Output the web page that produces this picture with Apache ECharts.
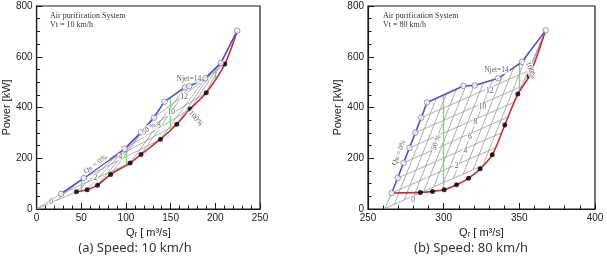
<!DOCTYPE html>
<html>
<head>
<meta charset="utf-8">
<script src="https://cdn.jsdelivr.net/npm/echarts@6/dist/echarts.min.js"></script>
<style>
  html, body { margin: 0; padding: 0; background: #fff; }
  #chart { width: 607px; height: 257px; }
</style>
</head>
<body>
<div id="chart"></div>
<script>
// ---- axes ----
const xRangeA = [0, 250, 50];
const xRangeB = [250, 400, 50];
const yRange = [0, 800, 200];

// ---- (a) Vt = 10 km/h ----
// upper envelope, white circles
const upperA = [[27.4, 60], [52.9, 122], [98.5, 237], [116.8, 302], [131.4, 360], [143.1, 423],
  [166, 479], [170.8, 484], [188.7, 515], [206.2, 576], [224.5, 702]];
// optimum line, black dots
const dotsA = [[44.5, 68], [56.6, 76], [68.2, 94], [82.8, 136], [104.7, 181], [116.8, 215],
  [138.7, 275], [156.9, 334], [171.9, 394], [189.8, 458], [210.6, 571]];
// Njet lines of the carpet
const njetA = [
  [[0, 0], [44.5, 68]],
  [[27.4, 60], [104.7, 181]],
  [[52.9, 122], [138.7, 275]],
  [[75.7, 179], [156.9, 334]],
  [[98.5, 237], [171.9, 394]],
  [[116.8, 302], [189.8, 458]],
  [[131.4, 360], [210.6, 571]]
];
// Q_B lines of the carpet
const qbA = [
  [[0, 0], [27.4, 60]],
  [[22, 34], [52.9, 122]],
  [[44.5, 68], [98.5, 237]],
  [[56.6, 76], [116.8, 302]],
  [[68.2, 94], [131.4, 360]],
  [[82.8, 136], [143.1, 423]],
  [[104.7, 181], [166, 479]],
  [[116.8, 215], [170.8, 484]],
  [[138.7, 275], [188.7, 515]],
  [[156.9, 334], [197, 545]],
  [[171.9, 394], [206.2, 576]],
  [[189.8, 458], [215, 635]]
];
// constant Qr lines: [Qr, low, high]
const greenA = [[50, 72, 115], [100, 172, 242], [150, 312, 438], [200, 513, 554]];
const labelsA = [
  ['0', 16.4, 26, 0],
  ['2', 65.7, 122, 0],
  ['4', 93.8, 204, 0],
  ['8', 136.9, 327, 0],
  ['10', 150.7, 381, 0],
  ['12', 165.3, 443, 0],
  ['Njet=14', 170.4, 513, 0],
  ['{t|Q}{s|B}{t| = 0%}', 66, 176, 35],
  ['50 %', 125.9, 316, 35],
  ['100%', 178, 357, -50]
];

// ---- (b) Vt = 80 km/h ----
const upperB = [[265.7, 63], [269.6, 122], [273.5, 182], [277.4, 241], [281.3, 301], [285.2, 360],
  [289, 420], [313, 485], [320.5, 487], [336, 515], [351.8, 580], [367.4, 704]];
const dotsB = [[284.6, 65.5], [292.6, 69.4], [300.3, 76], [308.5, 95.6], [316.4, 121],
  [324.1, 158.4], [332.1, 213.4], [340.4, 331], [349, 453], [356.6, 524]];
const njetB = [
  [[261, 2], [326, 172]],
  [[265.7, 63], [334, 241]],
  [[269.6, 122], [338.2, 300]],
  [[273.5, 182], [342.5, 362]],
  [[277.4, 241], [346.8, 421]],
  [[281.3, 301], [352.6, 486]],
  [[285.2, 360], [358.2, 550]]
];
const qbB = [
  [[261, 2], [265.7, 63]],
  [[267.5, 20], [295.3, 437]],
  [[274, 37], [301.9, 455]],
  [[280.5, 54], [308.4, 473]],
  [[287, 71], [314.7, 486]],
  [[293.5, 88], [320.1, 487]],
  [[300, 104], [326.2, 497]],
  [[306.5, 121], [332.3, 508]],
  [[313, 138], [338.9, 527]],
  [[319.5, 155], [346.3, 557]],
  [[326, 172], [354.8, 604]],
  [[346.8, 421], [367.4, 704]],
  [[352.6, 486], [367.4, 704]]
];
const greenB = [[300, 76, 449], [350, 462, 573]];
const labelsB = [
  ['0', 279.8, 36.7, 0],
  ['2', 308.5, 167.6, 0],
  ['4', 314.4, 226.5, 0],
  ['6', 317.3, 282.8, 0],
  ['8', 321, 341.7, 0],
  ['10', 325.7, 400.7, 0],
  ['12', 330.5, 466, 0],
  ['Njet=14', 334.9, 547, 0],
  ['{t|Q}{s|B}{t| = 0%}', 270.5, 222, 68],
  ['50 %', 295.2, 262, 70],
  ['100%', 357.5, 547, -70]
];

const captions = ['(a) Speed: 10 km/h', '(b) Speed: 80 km/h'];
const notes = ['Air purification System\nVt = 10 km/h', 'Air purification System\nVt = 80 km/h'];

const ink = '#1a1a1a';
const serif = '"Liberation Serif", "Times New Roman", serif';
const sans = 'Arial, "Liberation Sans", "DejaVu Sans", sans-serif';

function xAxis(idx, r) {
  return {
    gridIndex: idx, type: 'value', min: r[0], max: r[1], interval: r[2],
    axisLine: { show: true, onZero: false, lineStyle: { color: ink, width: 1.2 } },
    axisTick: { show: true, inside: true, length: 6, lineStyle: { color: ink, width: 1 } },
    minorTick: { show: true, splitNumber: 5, length: 3.5, lineStyle: { color: ink, width: 1 } },
    splitLine: { show: false },
    name: 'Q\u1d63 [ m\u00b3/s]',
    nameLocation: 'middle', nameGap: 16,
    nameTextStyle: { color: ink, fontFamily: sans, fontSize: 11 },
    axisLabel: { color: '#222', fontFamily: sans, fontSize: 10, margin: 4 }
  };
}

function yAxis(idx) {
  return {
    gridIndex: idx, type: 'value', min: yRange[0], max: yRange[1], interval: yRange[2],
    axisLine: { show: true, onZero: false, lineStyle: { color: ink, width: 1.2 } },
    axisTick: { show: true, inside: true, length: 6, lineStyle: { color: ink, width: 1 } },
    minorTick: { show: true, splitNumber: 4, length: 3.5, lineStyle: { color: ink, width: 1 } },
    splitLine: { show: false },
    name: 'Power [kW]', nameLocation: 'middle', nameGap: 20,
    nameTextStyle: { color: ink, fontFamily: sans, fontSize: 11 },
    axisLabel: { color: '#222', fontFamily: sans, fontSize: 10, margin: 4 }
  };
}

function panelSeries(axis, upper, dots, njet, qb, green, labels, redStartsAtUpper) {
  const end = upper[upper.length - 1];
  const red = (redStartsAtUpper ? [upper[0]] : []).concat(dots, [end]);
  const ax = { xAxisIndex: axis, yAxisIndex: axis };
  const mesh = njet.concat(qb).map(seg => ({ coords: seg }));
  return [
    Object.assign({
      type: 'lines', coordinateSystem: 'cartesian2d', polyline: true, silent: true, z: 1,
      lineStyle: { color: '#9a9a9a', width: 0.8, opacity: 1 },
      data: mesh
    }, ax),
    Object.assign({
      type: 'lines', coordinateSystem: 'cartesian2d', silent: true, z: 2,
      lineStyle: { color: '#86cf7e', width: 1.4, opacity: 1 },
      data: green.map(g => ({ coords: [[g[0], g[1]], [g[0], g[2]]] }))
    }, ax),
    Object.assign({
      type: 'line', z: 3, symbol: 'none', smooth: 0.3,
      lineStyle: { color: '#c4303a', width: 1.6 },
      data: red
    }, ax),
    Object.assign({
      type: 'line', z: 4, symbol: 'none',
      lineStyle: { color: '#5050cc', width: 1.6 },
      data: upper
    }, ax),
    Object.assign({
      type: 'scatter', z: 5, symbol: 'circle', symbolSize: 5,
      itemStyle: { color: '#000' },
      data: dots
    }, ax),
    Object.assign({
      type: 'scatter', z: 6, symbol: 'circle', symbolSize: 5.5,
      itemStyle: { color: '#fff', borderColor: '#7a7a9a', borderWidth: 1 },
      data: upper
    }, ax),
    Object.assign({
      type: 'scatter', z: 7, symbolSize: 0, silent: true,
      label: {
        show: true, position: 'inside', color: '#333',
        fontFamily: serif, fontSize: 7.5,
        backgroundColor: '#fff', padding: [0, 1],
        formatter: p => p.data.name,
        rich: {
          t: { fontFamily: serif, fontSize: 7.5, color: '#333' },
          s: { fontFamily: serif, fontSize: 5.5, color: '#333', verticalAlign: 'bottom' }
        }
      },
      data: labels.map(l => ({ name: l[0], value: [l[1], l[2]], label: { rotate: l[3] } }))
    }, ax)
  ];
}

const frame = { show: true, borderColor: ink, borderWidth: 1.2, backgroundColor: 'transparent' };

const chart = echarts.init(document.getElementById('chart'));
chart.setOption({
  animation: false,
  grid: [
    Object.assign({ left: 32, top: 6, width: 228, height: 203 }, frame),
    Object.assign({ left: 368, top: 6, width: 227, height: 203 }, frame)
  ],
  xAxis: [xAxis(0, xRangeA), xAxis(1, xRangeB)],
  yAxis: [yAxis(0), yAxis(1)],
  series: panelSeries(0, upperA, dotsA, njetA, qbA, greenA, labelsA, false)
    .concat(panelSeries(1, upperB, dotsB, njetB, qbB, greenB, labelsB, true)),
  graphic: [
    { type: 'text', x: 50, y: 11, style: { text: notes[0], font: '8px ' + serif, fill: '#333', lineHeight: 9 } },
    { type: 'text', x: 383, y: 11, style: { text: notes[1], font: '8px ' + serif, fill: '#333', lineHeight: 9 } },
    { type: 'text', x: 135, y: 248, style: { text: captions[0], font: '13px "Noto Sans"', fill: '#333', textAlign: 'center', textVerticalAlign: 'middle' } },
    { type: 'text', x: 471, y: 248, style: { text: captions[1], font: '13px "Noto Sans"', fill: '#333', textAlign: 'center', textVerticalAlign: 'middle' } }
  ]
});
</script>
</body>
</html>
